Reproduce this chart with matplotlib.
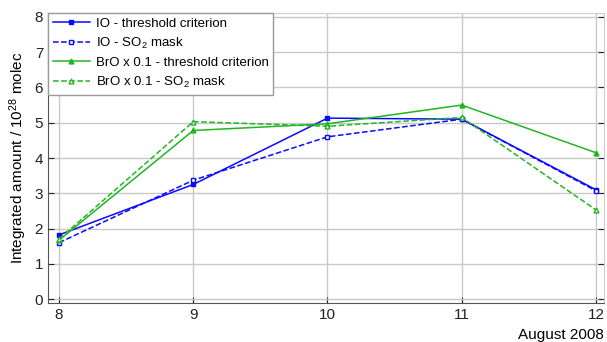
import matplotlib
matplotlib.use('Agg')
import matplotlib.pyplot as plt

days = [8, 9, 10, 11, 12]
io_thresh = [1.82, 3.25, 5.13, 5.10, 3.10]
io_so2 = [1.60, 3.37, 4.60, 5.10, 3.07]
bro_thresh = [1.67, 4.78, 4.97, 5.50, 4.15]
bro_so2 = [1.70, 5.03, 4.90, 5.15, 2.53]

plt.rcParams['font.family'] = ['Liberation Sans', 'DejaVu Sans']
plt.rcParams['mathtext.fontset'] = 'custom'
plt.rcParams['mathtext.rm'] = 'Liberation Sans'
plt.rcParams['mathtext.it'] = 'Liberation Sans'

blue = '#0a0aff'
green = '#22b522'

fig = plt.figure(figsize=(6.07, 3.42), dpi=100)
ax = fig.add_axes([48 / 607, 39 / 342, 556 / 607, 290 / 342])

ax.plot(days, io_thresh, color=blue, linestyle='-', marker='s', markersize=3.5, lw=1.1,
        label='IO - threshold criterion')
ax.plot(days, io_so2, color=blue, linestyle='--', marker='s', markersize=3.5, lw=1.1,
        markerfacecolor='white', label='IO - SO$_2$ mask')
ax.plot(days, bro_thresh, color=green, linestyle='-', marker='^', markersize=3.5, lw=1.1,
        label='BrO x 0.1 - threshold criterion')
ax.plot(days, bro_so2, color=green, linestyle='--', marker='^', markersize=3.5, lw=1.1,
        markerfacecolor='white', label='BrO x 0.1 - SO$_2$ mask')

ax.set_xlim(7.918, 12.06)
ax.set_ylim(-0.11, 8.11)
ax.set_xticks(days)
ax.set_yticks(range(0, 9))
ax.grid(True, color='#c8c8c8', lw=1)
ax.set_axisbelow(True)
ax.tick_params(direction='in', right=True, labelsize=11, colors='#222222', length=4)
for s in ['left', 'bottom']:
    ax.spines[s].set_color('#555555')
for s in ['top', 'right']:
    ax.spines[s].set_color('#cccccc')

ax.set_ylabel('Integrated amount / 10$^{28}$ molec', fontsize=11)
ax.set_xlabel('August 2008', fontsize=11)
ax.xaxis.set_label_coords(1.0, -0.085)
ax.xaxis.label.set_horizontalalignment('right')

leg = ax.legend(loc='upper left', fontsize=9.5, fancybox=False, framealpha=1,
                edgecolor='#999999', borderaxespad=0, handlelength=2.8,
                handletextpad=0.45, borderpad=0.35, labelspacing=0.45)
leg.get_frame().set_linewidth(1)

fig.savefig('out.png', dpi=100)
